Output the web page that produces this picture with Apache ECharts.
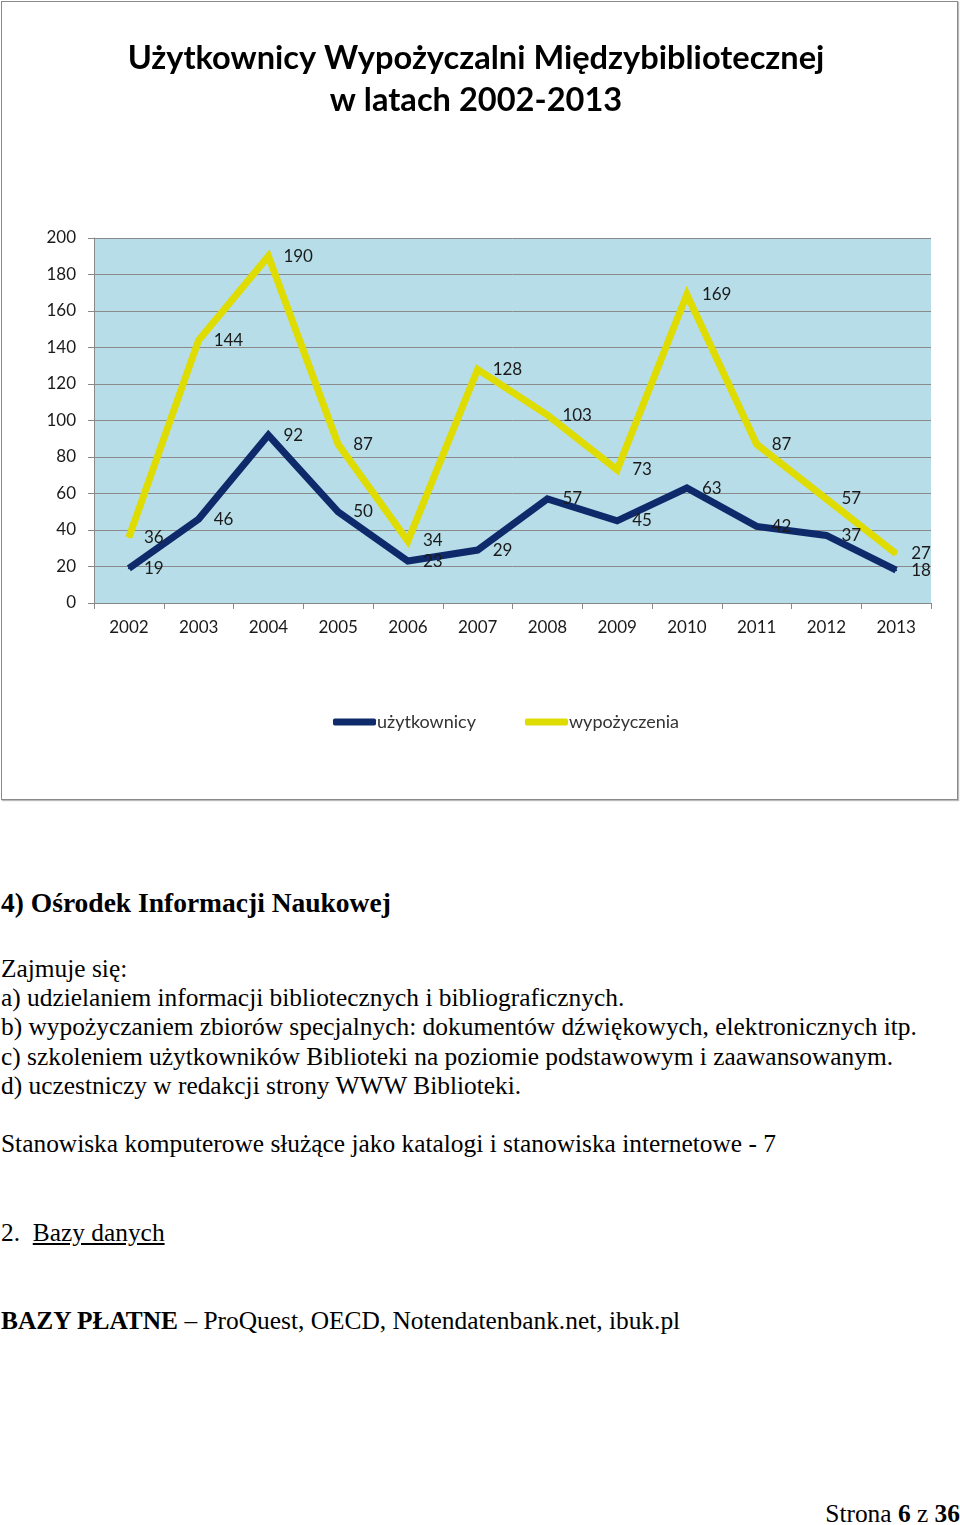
<!DOCTYPE html>
<html><head><meta charset="utf-8">
<script src="https://cdn.jsdelivr.net/npm/echarts@6/dist/echarts.min.js"></script>
<style>
html,body{margin:0;padding:0;background:#fff;width:960px;height:1525px;overflow:hidden;}
#box{position:absolute;left:1px;top:1px;width:955px;height:797px;border:1px solid #8a8a8a;box-shadow:1px 1px 1px #bbb;}
#chart{position:absolute;left:0;top:0;width:960px;height:800px;}
.t{position:absolute;left:1px;font-family:"Liberation Serif","Times New Roman",serif;color:#000;white-space:nowrap;font-size:25.4px;line-height:28px;}
</style></head><body>
<div id="box"></div>
<div id="chart"></div>
<div class="t" style="top:887px;font-size:27.5px;line-height:32px;font-weight:bold;">4) Ośrodek Informacji Naukowej</div>
<div class="t" style="top:954px;">Zajmuje się:</div>
<div class="t" style="top:983px;">a) udzielaniem informacji bibliotecznych i bibliograficznych.</div>
<div class="t" style="top:1012px;">b) wypożyczaniem zbiorów specjalnych: dokumentów dźwiękowych, elektronicznych itp.</div>
<div class="t" style="top:1042px;">c) szkoleniem użytkowników Biblioteki na poziomie podstawowym i zaawansowanym.</div>
<div class="t" style="top:1071px;">d) uczestniczy w redakcji strony WWW Biblioteki.</div>
<div class="t" style="top:1129px;">Stanowiska komputerowe służące jako katalogi i stanowiska internetowe - 7</div>
<div class="t" style="top:1218px;">2.&nbsp; <span style="text-decoration:underline;">Bazy danych</span></div>
<div class="t" style="top:1306px;"><b>BAZY PŁATNE</b> – ProQuest, OECD, Notendatenbank.net, ibuk.pl</div>
<div class="t" style="top:1499px;left:auto;right:0;font-size:25.4px;line-height:28px;">Strona <b>6</b> z <b>36</b></div>
<script>
var years = ['2002','2003','2004','2005','2006','2007','2008','2009','2010','2011','2012','2013'];
var uzytkownicy = [19, 46, 92, 50, 23, 29, 57, 45, 63, 42, 37, 18];
var wypozyczenia = [36, 144, 190, 87, 34, 128, 103, 73, 169, 87, 57, 27];
var yTicks = {min: 0, max: 200, interval: 20};

var chart = echarts.init(document.getElementById('chart'));
var font = 'Lato, "Open Sans", sans-serif';
function lineSeries(name, data, color) {
  return {
    name: name, type: 'line', data: data,
    symbol: 'circle', symbolSize: 2, showSymbol: true,
    itemStyle: {color: color},
    lineStyle: {color: color, width: 7, join: 'miter', cap: 'butt'},
    label: {show: true, position: 'right', distance: 14, color: '#1a1a1a', fontSize: 17, fontFamily: font},
    emphasis: {disabled: true},
    animation: false
  };
}
chart.setOption({
  animation: false,
  title: {
    text: 'Użytkownicy Wypożyczalni Międzybibliotecznej\nw latach 2002-2013',
    left: 471, top: 32, textAlign: 'center',
    textStyle: {fontFamily: font, fontWeight: 'bold', fontSize: 32.6, lineHeight: 42, color: '#000'}
  },
  legend: {
    left: 328, top: 708, itemWidth: 43, itemHeight: 7, itemGap: 49,
    icon: 'roundRect',
    textStyle: {fontFamily: font, fontSize: 18, color: '#333', padding: [0,0,0,-4]},
    data: ['użytkownicy', 'wypożyczenia']
  },
  grid: {left: 94, right: 29, top: 238, bottom: 197, containLabel: false,
         show: true, backgroundColor: '#B7DDE8', borderWidth: 0},
  xAxis: {
    type: 'category', data: years, boundaryGap: true,
    axisLine: {lineStyle: {color: '#888', width: 1}},
    axisTick: {show: true, alignWithLabel: false, length: 6, lineStyle: {color: '#888'}},
    axisLabel: {fontFamily: font, fontSize: 17, color: '#1a1a1a', margin: 16}
  },
  yAxis: {
    type: 'value', min: yTicks.min, max: yTicks.max, interval: yTicks.interval,
    axisLine: {show: true, lineStyle: {color: '#888', width: 1}},
    axisTick: {show: true, length: 6, lineStyle: {color: '#888'}},
    splitLine: {show: true, lineStyle: {color: '#8a8a8a', width: 1}},
    axisLabel: {fontFamily: font, fontSize: 17, color: '#1a1a1a', margin: 18}
  },
  series: [
    lineSeries('użytkownicy', uzytkownicy, '#0F2A6B'),
    lineSeries('wypożyczenia', wypozyczenia, '#DEDC00')
  ]
});
</script>
</body></html>
